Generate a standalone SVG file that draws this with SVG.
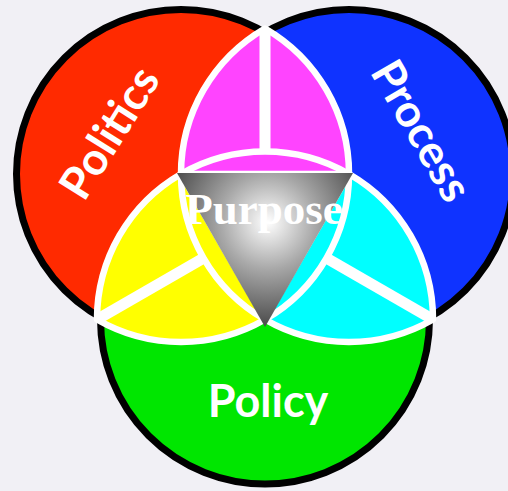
<svg xmlns="http://www.w3.org/2000/svg" width="508" height="491" viewBox="0 0 508 491">
<defs>
<style>
.circ{stroke:#000;stroke-width:7}
.piece{stroke:#fff;stroke-width:6.5;stroke-linejoin:round}
.wline{stroke:#fff;fill:none;stroke-width:6.5}
.div{stroke:#fff;stroke-width:11;fill:none}
.lbl{fill:#fff;font-family:Lato,"Open Sans","Liberation Sans",sans-serif;font-weight:bold;font-size:45px;text-anchor:middle}
.pur{fill:#fff;font-family:"Liberation Serif","DejaVu Serif",serif;font-weight:bold;font-size:45px;text-anchor:middle}
</style>
<radialGradient id="tg" gradientUnits="userSpaceOnUse" cx="268" cy="222" r="105">
<stop offset="0" stop-color="#ffffff"/>
<stop offset="0.45" stop-color="#a8a8a8"/>
<stop offset="1" stop-color="#4a4a4a"/>
</radialGradient>
</defs>
<rect width="508" height="491" fill="#f1f0f5"/>
<g id="politics-circle"><circle class="circ" cx="181" cy="174" r="164.5" fill="#ff2a00"/></g>
<g id="process-circle"><circle class="circ" cx="349" cy="174" r="164.5" fill="#0f33ff"/></g>
<g id="policy-circle"><circle class="circ" cx="265" cy="319.5" r="164.5" fill="#00e600"/></g>
<g id="magenta"><path class="piece" fill="#ff44ff" d="M265 28.5A168 168 0 0 1 349 174L181 174A168 168 0 0 1 265 28.5Z"/></g>
<g id="yellow"><path class="piece" fill="#ffff00" d="M97 319.5A168 168 0 0 1 181 174L265 319.5A168 168 0 0 1 97 319.5Z"/></g>
<g id="cyan"><path class="piece" fill="#00ffff" d="M433 319.5A168 168 0 0 0 349 174L265 319.5A168 168 0 0 0 433 319.5Z"/></g>
<g id="connectors">
<path class="wline" d="M181 174A168 168 0 0 1 349 174"/>
<path class="wline" d="M181 174A168 168 0 0 0 265 319.5"/>
<path class="wline" d="M349 174A168 168 0 0 1 265 319.5"/>
<path class="div" d="M265 28.5L265 151.5"/>
<path class="div" d="M97 319.5L202 259"/>
<path class="div" d="M433 319.5L328 259"/>
</g>
<g id="purpose">
<polygon points="177,173 353,173 265,327" fill="url(#tg)"/>
<text class="pur" x="264" y="224">Purpose</text>
</g>
<g id="politics-label"><text class="lbl" transform="translate(110,133) rotate(-58)" y="15">Politics</text></g>
<g id="process-label"><text class="lbl" transform="translate(421,131) rotate(60)" y="15">Process</text></g>
<g id="policy-label"><text class="lbl" x="268" y="417">Policy</text></g>
</svg>
